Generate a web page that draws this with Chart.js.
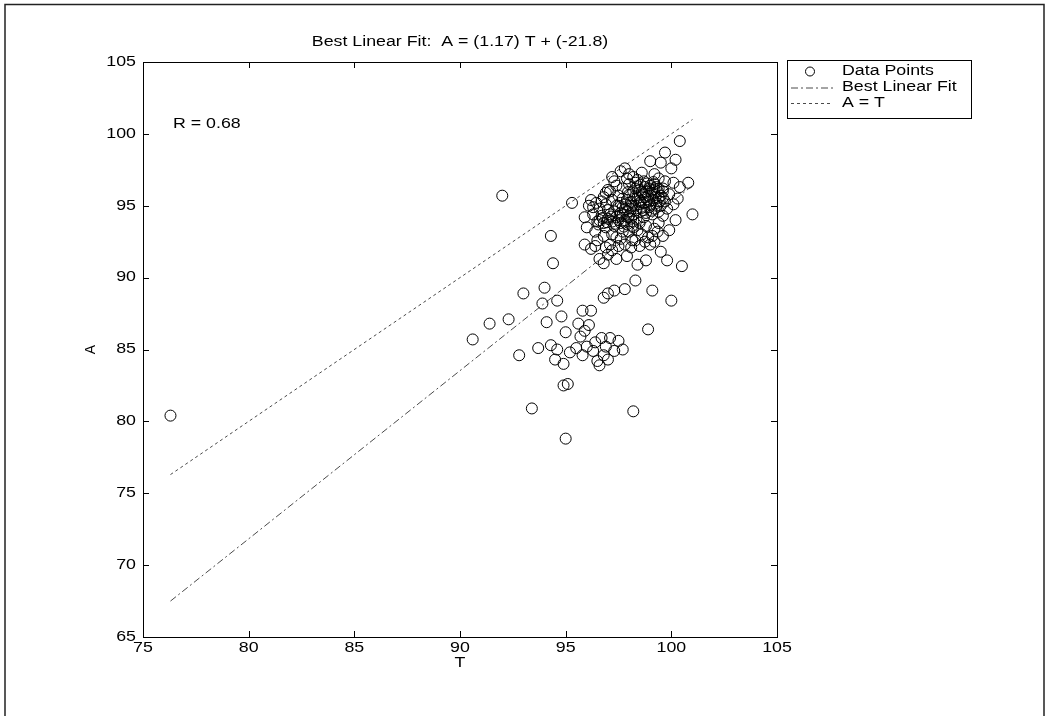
<!DOCTYPE html>
<html>
<head>
<meta charset="utf-8">
<script src="https://cdn.jsdelivr.net/npm/chart.js@4/dist/chart.umd.min.js"></script>
<style>
  html, body { margin: 0; padding: 0; background: #fff; }
  canvas { display: block; }
</style>
</head>
<body>
<canvas id="c" width="1049" height="717"></canvas>
<script>
// ---------- data ----------
const chartTitle = 'Best Linear Fit:  A = (1.17) T + (-21.8)';
const xLabel = 'T';
const yLabel = 'A';
const rText = 'R = 0.68';
const rPos = [76.42, 100.7];           // where the R label sits (data coords)
const xTicks = [75, 80, 85, 90, 95, 100, 105];
const yTicks = [65, 70, 75, 80, 85, 90, 95, 100, 105];
const legendLabels = ['Data Points', 'Best Linear Fit', 'A = T'];

// best linear fit line endpoints (T, A)
const fitT = [76.3, 101.0];
const fitA = [67.5, 96.4];
// A = T line endpoints
const idT = [76.3, 101.0];
const idA = [76.3, 101.0];

// data points [T, A]
const dataPoints = [
  [76.3,80.4],[92.0,95.7],[90.6,85.7],[91.4,86.8],[92.3,87.1],[92.8,84.6],[93.0,88.9],
  [93.4,80.9],[93.7,85.1],[93.9,88.2],[94.0,89.3],[94.1,86.9],[94.3,85.3],[94.3,92.9],
  [94.4,91.0],[94.5,84.3],[94.6,85.0],[94.6,88.4],[94.8,87.3],[94.9,84.0],[94.9,82.5],
  [95.1,82.6],[95.0,78.8],[95.3,95.2],[95.0,86.2],[95.2,84.8],[95.5,85.1],[95.6,86.8],
  [95.7,85.9],[95.8,87.7],[95.8,84.6],[95.9,86.3],[96.0,85.2],[96.1,86.7],[96.2,87.7],
  [96.3,84.9],[96.4,85.5],[96.5,84.2],[96.6,83.9],[96.7,85.8],[96.8,84.6],[96.9,85.2],
  [97.0,84.3],[97.1,85.8],[97.3,84.9],[97.5,85.6],[97.7,85.0],[96.8,88.6],[97.0,88.9],
  [97.3,89.1],[97.8,89.2],[98.3,89.8],[98.2,80.7],[98.9,86.4],[99.1,89.1],[99.8,91.2],
  [100.0,88.4],[100.5,90.8],[101.0,94.4],[100.8,96.6],[100.4,99.5],[99.7,98.7],[100.2,98.2],
  [99.5,98.0],[99.0,98.1],[100.0,97.6],[99.2,97.2],[98.7,96.7],
  // left fringe
  [95.9,92.3],[96.2,92.0],[96.0,93.5],[95.9,94.2],[96.1,95.0],[96.3,94.9],[96.6,91.3],
  [96.8,91.0],[97.0,91.6],[96.4,93.2],[96.2,95.4],
  // lower-right fringe
  [99.2,92.5],[99.6,92.9],[99.9,93.3],[100.2,94.0],[100.3,95.5],[100.1,96.6],[99.5,91.8],
  [98.8,91.2],[98.4,90.9],[97.9,91.5],[97.4,91.3],[98.1,92.1],
  // upper fringe
  [97.0,96.1],[97.2,97.0],[97.6,97.4],[98.0,97.2],[98.4,96.8],[97.4,96.4],[96.9,95.9],
  [97.8,97.6],[98.6,97.3],[99.2,96.5],[99.6,96.2],[100.4,96.3],
  [97.3,96.7],[97.9,96.9],[98.2,97.0],[99.4,96.9],[99.7,96.7],
  // horizontal streak
  [96.6,94.0],[96.8,93.8],[97.0,94.1],[97.2,93.9],[97.4,94.2],[97.6,93.8],[97.8,94.0],
  [98.0,94.3],[98.2,93.9],[96.7,94.3],[96.9,93.5],[97.1,94.4],[97.3,93.6],[97.5,94.0],
  [97.7,94.4],[97.9,93.7],[98.1,94.1],
  [96.55,93.7],[96.75,94.15],[96.95,93.85],[97.15,94.25],[97.35,93.75],[97.55,94.3],
  [97.75,93.55],[97.95,94.2],[98.15,93.6],[98.35,94.1],[98.5,93.8],[98.7,94.2],
  // dense core
  [97.6,94.5],[97.95,94.6],[98.2,94.4],[98.55,94.6],[98.8,94.5],[99.1,94.4],[99.4,94.6],
  [97.7,94.9],[98.05,94.8],[98.3,95.0],[98.6,94.85],[98.95,94.9],[99.2,94.8],[99.5,95.0],
  [97.85,95.1],[98.1,95.25],[98.45,95.1],[98.7,95.2],[99.0,95.05],[99.3,95.2],
  [97.9,95.4],[98.25,95.5],[98.5,95.35],[98.85,95.45],[99.15,95.4],[99.4,95.55],
  [98.0,95.75],[98.3,95.7],[98.65,95.8],[98.9,95.7],[99.2,95.85],[99.5,95.7],
  [98.2,96.0],[98.5,96.1],[98.8,96.0],[99.1,96.1],[99.35,96.0],
  [98.4,96.35],[98.75,96.3],[99.0,96.4],[99.3,96.3],
  [98.35,94.7],[98.7,94.7],[99.05,94.65],[99.3,95.0],[98.15,95.0],[98.55,95.25],
  [98.95,95.3],[99.25,95.6],[98.4,95.55],[98.75,95.6],[99.05,95.9],[98.6,95.95],
  [98.95,96.2],[99.2,96.15],[98.3,96.2],[97.95,95.95],[97.7,95.5],[97.5,95.0],
  [97.8,94.75],[99.45,95.3],[99.6,95.55],[99.4,96.2],[98.85,96.55],[99.15,96.65],[98.55,96.45],
  // below core
  [97.2,93.0],[97.6,92.7],[98.0,93.2],[98.3,92.6],[98.6,93.0],[98.9,92.8],[99.2,93.4],
  [97.8,92.3],[98.5,92.2],[99.0,92.3],[98.2,93.5],[98.8,93.6],[99.4,93.8],[99.6,94.3],
  [99.8,94.8],[99.7,95.3],[99.9,95.8],[100.1,95.1],[99.6,96.0],[96.5,92.6],[96.8,92.9],
  [97.1,92.3],[97.4,92.8],
  [97.7,93.2],[98.4,93.3],[98.75,92.5],[99.1,92.9],[99.35,93.2],[98.15,92.6],
  // upper-left of core
  [96.6,94.8],[96.9,95.1],[97.2,95.4],[97.5,95.7],[96.8,95.6],[97.1,96.0],[97.4,95.0],
  [97.0,94.7],[97.3,94.6],[97.6,95.2],[97.7,96.2],[98.0,96.5],[98.3,96.6],
  [96.5,93.9],[96.3,94.4],[96.45,95.2],[96.7,95.3],[96.4,92.2],[96.9,92.1],[97.2,91.9],[97.5,92.2]
];

// ---------- chart ----------
const FONT = "'Liberation Sans', Arial, sans-serif";
const FONT_SIZE = 14;
const SX = 1.27;          // horizontal stretch of the scanned lettering
const LINE_COL = '#4a4a4a';

function drawText(ctx, s, x, y, align, sx) {
  ctx.save();
  ctx.translate(x, y);
  ctx.scale(sx, 1);
  ctx.textAlign = align;
  ctx.textBaseline = 'middle';
  ctx.fillText(s, 0, 0);
  ctx.restore();
}

const frame = {
  id: 'frame',
  afterDraw(chart) {
    const {ctx, chartArea: a, scales: {x, y}} = chart;
    ctx.save();
    // figure border
    ctx.strokeStyle = '#222';
    ctx.lineWidth = 1.5;
    ctx.beginPath();
    ctx.moveTo(5, 716); ctx.lineTo(5, 4.5); ctx.lineTo(1044, 4.5); ctx.lineTo(1044, 716);
    ctx.stroke();
    // axes box
    ctx.strokeStyle = '#000';
    ctx.lineWidth = 1;
    ctx.strokeRect(Math.round(a.left) + 0.5, Math.round(a.top) + 0.5,
                   Math.round(a.right - a.left), Math.round(a.bottom - a.top));
    // inward ticks
    const tl = 6;
    ctx.beginPath();
    xTicks.forEach(v => {
      const px = Math.round(x.getPixelForValue(v)) + 0.5;
      ctx.moveTo(px, a.bottom); ctx.lineTo(px, a.bottom - tl);
      ctx.moveTo(px, a.top); ctx.lineTo(px, a.top + tl);
    });
    yTicks.forEach(v => {
      const py = Math.round(y.getPixelForValue(v)) + 0.5;
      ctx.moveTo(a.left, py); ctx.lineTo(a.left + tl, py);
      ctx.moveTo(a.right, py); ctx.lineTo(a.right - tl, py);
    });
    ctx.stroke();

    ctx.fillStyle = '#000';
    ctx.font = FONT_SIZE + 'px ' + FONT;
    // tick labels
    xTicks.forEach(v => drawText(ctx, String(v), x.getPixelForValue(v), a.bottom + 11, 'center', SX));
    yTicks.forEach(v => drawText(ctx, String(v), a.left - 7, y.getPixelForValue(v), 'right', SX));
    // axis titles
    drawText(ctx, xLabel, (a.left + a.right) / 2, a.bottom + 26, 'center', SX);
    ctx.save();
    ctx.translate(91, (a.top + a.bottom) / 2);
    ctx.rotate(-Math.PI / 2);
    drawText(ctx, yLabel, 0, 0, 'center', 1);
    ctx.restore();
    // chart title
    drawText(ctx, chartTitle, (a.left + a.right) / 2, 42, 'center', SX);
    // R label
    drawText(ctx, rText, x.getPixelForValue(rPos[0]), y.getPixelForValue(rPos[1]), 'left', SX);
    // legend
    const lx = 787, ly = 60, lw = 184, lh = 58;
    ctx.strokeRect(lx + 0.5, ly + 0.5, lw, lh);
    const rows = [71.5, 87.5, 103];
    legendLabels.forEach((t, i) => drawText(ctx, t, 842, rows[i], 'left', SX));
    ctx.beginPath();
    ctx.arc(810, rows[0], 4.5, 0, Math.PI * 2);
    ctx.stroke();
    ctx.strokeStyle = LINE_COL;
    ctx.setLineDash([7, 3, 2, 3]);
    ctx.beginPath(); ctx.moveTo(791, rows[1] + 0.5); ctx.lineTo(833, rows[1] + 0.5); ctx.stroke();
    ctx.setLineDash([3, 3]);
    ctx.beginPath(); ctx.moveTo(791, rows[2] + 0.5); ctx.lineTo(833, rows[2] + 0.5); ctx.stroke();
    ctx.restore();
  }
};

new Chart(document.getElementById('c'), {
  type: 'scatter',
  data: {
    datasets: [
      {
        label: legendLabels[0],
        data: dataPoints.map(p => ({ x: p[0], y: p[1] })),
        pointStyle: 'circle',
        pointRadius: 5.5,
        borderColor: '#000',
        borderWidth: 1,
        backgroundColor: 'rgba(0,0,0,0)',
        showLine: false
      },
      {
        label: legendLabels[1],
        type: 'line',
        data: fitT.map((t, i) => ({ x: t, y: fitA[i] })),
        borderColor: LINE_COL,
        borderWidth: 1,
        borderDash: [7, 3, 2, 3],
        pointRadius: 0,
        fill: false
      },
      {
        label: legendLabels[2],
        type: 'line',
        data: idT.map((t, i) => ({ x: t, y: idA[i] })),
        borderColor: LINE_COL,
        borderWidth: 1,
        borderDash: [3, 3],
        pointRadius: 0,
        fill: false
      }
    ]
  },
  options: {
    responsive: false,
    animation: false,
    events: [],
    layout: { padding: { left: 143, right: 272, top: 62, bottom: 80 } },
    plugins: {
      legend: { display: false },
      tooltip: { enabled: false },
      title: { display: false }
    },
    scales: {
      x: { type: 'linear', min: 75, max: 105, display: false },
      y: { type: 'linear', min: 65, max: 105, display: false }
    }
  },
  plugins: [frame]
});
</script>
</body>
</html>
